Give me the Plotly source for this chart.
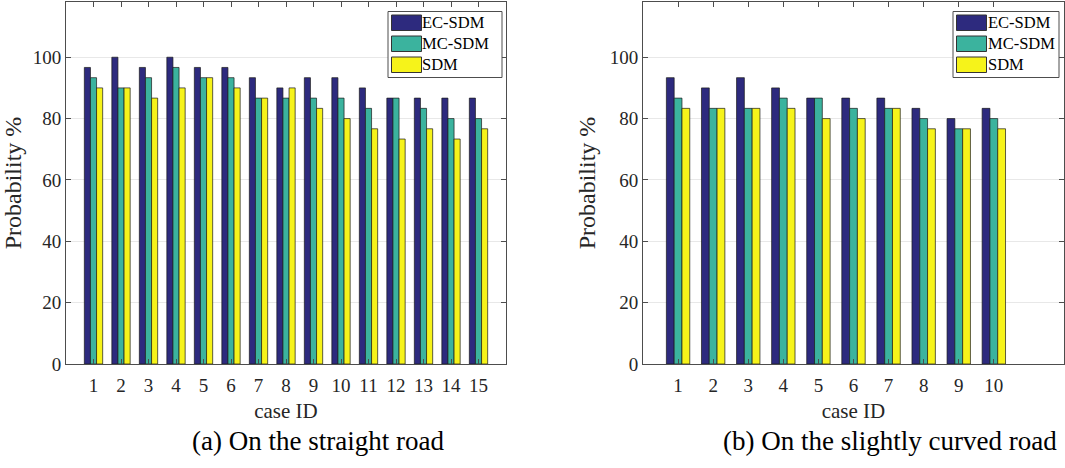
import plotly.graph_objects as go

# ---------------- data ----------------
series_names = ["EC-SDM", "MC-SDM", "SDM"]
series_colors = ["#2d2a7e", "#3bb39e", "#f6f31a"]

cases_a = list(range(1, 16))
ec_a = [96.67, 100.0, 96.67, 100.0, 96.67, 96.67, 93.33, 90.0, 93.33, 93.33, 90.0, 86.67, 86.67, 86.67, 86.67]
mc_a = [93.33, 90.0, 93.33, 96.67, 93.33, 93.33, 86.67, 86.67, 86.67, 86.67, 83.33, 86.67, 83.33, 80.0, 80.0]
sdm_a = [90.0, 90.0, 86.67, 90.0, 93.33, 90.0, 86.67, 90.0, 83.33, 80.0, 76.67, 73.33, 76.67, 73.33, 76.67]

cases_b = list(range(1, 11))
ec_b = [93.33, 90.0, 93.33, 90.0, 86.67, 86.67, 86.67, 83.33, 80.0, 83.33]
mc_b = [86.67, 83.33, 83.33, 86.67, 86.67, 83.33, 83.33, 80.0, 76.67, 80.0]
sdm_b = [83.33, 83.33, 83.33, 83.33, 80.0, 80.0, 83.33, 76.67, 76.67, 76.67]

y_ticks = [0, 20, 40, 60, 80, 100]
x_title = "case ID"
y_title = "Probability %"
captions = ["(a) On the straight road", "(b) On the slightly curved road"]

FONT = "Liberation Serif, Times New Roman, serif"
W, H = 1065, 468

fig = go.Figure()

for vals, xa, ya, cases in [((ec_a, mc_a, sdm_a), "x", "y", cases_a),
                            ((ec_b, mc_b, sdm_b), "x2", "y2", cases_b)]:
    for name, color, v in zip(series_names, series_colors, vals):
        fig.add_trace(go.Bar(
            x=cases, y=v, name=name, xaxis=xa, yaxis=ya,
            marker=dict(color=color, line=dict(color="#1a1a1a", width=0.7)),
            showlegend=False,
        ))

axis_common = dict(
    showline=True, linecolor="#4d4d4d", linewidth=1, mirror="ticks",
    ticks="inside", ticklen=5, tickcolor="#4d4d4d", tickwidth=1,
    tickfont=dict(family=FONT, size=19, color="#262626"),
    zeroline=False, automargin=False,
)

def px_x(p):
    return p / W

def px_y(p):
    return 1 - p / H

yd = [px_y(364), px_y(2)]
xtitle = dict(text=x_title, font=dict(family=FONT, size=21, color="#262626"), standoff=8)
ytitle = dict(text=y_title, font=dict(family=FONT, size=24, color="#262626"), standoff=7)
fig.update_layout(
    template="none",
    width=W, height=H,
    margin=dict(l=0, r=0, t=0, b=0),
    paper_bgcolor="white", plot_bgcolor="white",
    barmode="group", bargap=0.333, bargroupgap=0.0,
    font=dict(family=FONT, color="#262626"),
    xaxis=dict(domain=[px_x(66), px_x(506)], range=[0, 16], tickvals=cases_a,
               showgrid=False, anchor="y", ticklabelstandoff=4, title=xtitle, **axis_common),
    yaxis=dict(domain=yd, range=[0, 118], tickvals=y_ticks, anchor="x",
               showgrid=True, gridcolor="#e8e8e8", gridwidth=1, title=ytitle, **axis_common),
    xaxis2=dict(domain=[px_x(643), px_x(1064)], range=[0, 12], tickvals=cases_b,
                showgrid=False, anchor="y2", ticklabelstandoff=4, title=xtitle, **axis_common),
    yaxis2=dict(domain=yd, range=[0, 118], tickvals=y_ticks, anchor="x2",
                showgrid=True, gridcolor="#e8e8e8", gridwidth=1, title=ytitle, **axis_common),
)

# custom legends (MATLAB style boxes with wide swatches)
shapes = []
annotations = []
for box_l, box_r in [(388, 502), (953, 1059)]:
    shapes.append(dict(type="rect", xref="paper", yref="paper",
                       x0=px_x(box_l), x1=px_x(box_r), y0=px_y(77.5), y1=px_y(11.5),
                       line=dict(color="#4d4d4d", width=1), fillcolor="white", layer="above"))
    sw_l = box_l + 3.5
    sw_r = sw_l + 30
    for i, (name, color) in enumerate(zip(series_names, series_colors)):
        top = 15 + i * 21
        bot = top + 15.5
        shapes.append(dict(type="rect", xref="paper", yref="paper",
                           x0=px_x(sw_l), x1=px_x(sw_r), y0=px_y(bot), y1=px_y(top),
                           line=dict(color="#333333", width=1), fillcolor=color, layer="above"))
        annotations.append(dict(xref="paper", yref="paper", x=px_x(sw_r), y=px_y((top + bot) / 2),
                                text=name, showarrow=False, xanchor="left", yanchor="middle",
                                borderpad=0,
                                font=dict(family=FONT, size=16.5, color="black")))

for cap, cx in zip(captions, [318, 890]):
    annotations.append(dict(xref="paper", yref="paper", x=px_x(cx), y=px_y(441),
                            text=cap, showarrow=False, xanchor="center", yanchor="middle",
                            font=dict(family=FONT, size=27, color="black")))

fig.update_layout(shapes=shapes, annotations=annotations)

post = """
document.documentElement.style.margin='0';
document.documentElement.style.overflow='hidden';
document.body.style.margin='0';
document.body.style.overflow='hidden';
"""
fig.write_html("out.html", config={"displayModeBar": False}, post_script=post)
